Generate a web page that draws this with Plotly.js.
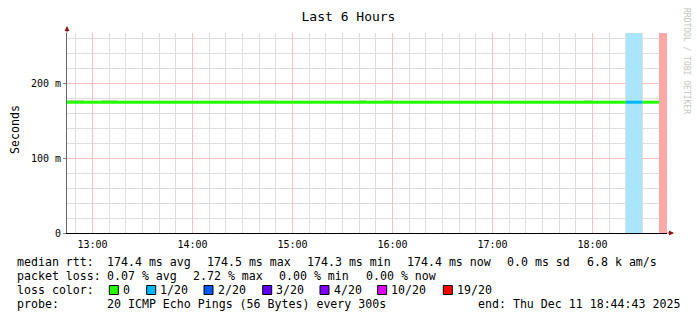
<!DOCTYPE html>
<html>
<head>
<meta charset="utf-8">
<script src="https://cdn.plot.ly/plotly-3.0.1.min.js"></script>
<style>html,body{margin:0;padding:0;background:#fff;}#chart{width:697px;height:321px;}</style>
</head>
<body>
<div id="chart"></div>
<script>
// ---------------- data ----------------
const day = '2025-12-11 ';
const stepTimes = ['12:40','12:45','12:50','12:55',
 '13:00','13:05','13:10','13:15','13:20','13:25','13:30','13:35','13:40','13:45','13:50','13:55',
 '14:00','14:05','14:10','14:15','14:20','14:25','14:30','14:35','14:40','14:45','14:50','14:55',
 '15:00','15:05','15:10','15:15','15:20','15:25','15:30','15:35','15:40','15:45','15:50','15:55',
 '16:00','16:05','16:10','16:15','16:20','16:25','16:30','16:35','16:40','16:45','16:50','16:55',
 '17:00','17:05','17:10','17:15','17:20','17:25','17:30','17:35','17:40','17:45','17:50','17:55',
 '18:00','18:05','18:10','18:15','18:20','18:25','18:30','18:35','18:40'];
// median rtt in ms
const medianRtt = [174.4,174.4,174.5,174.4,
 174.4,174.4,174.5,174.4,174.3,174.4,174.4,174.4,174.4,174.5,174.4,174.4,
 174.4,174.4,174.4,174.3,174.4,174.4,174.4,174.4,174.5,174.4,174.4,174.4,
 174.4,174.4,174.4,174.4,174.3,174.4,174.4,174.4,174.4,174.4,174.4,174.4,
 174.4,174.4,174.4,174.4,174.4,174.3,174.4,174.4,174.4,174.4,174.4,174.4,
 174.4,174.4,174.4,174.4,174.4,174.4,174.4,174.3,174.4,174.4,174.4,174.4,
 174.4,174.4,174.4,174.4,174.4,174.4,174.4,174.4,null];
// smoke (min / max of individual pings) in ms
const smokeLow = [174.0,174.0,174.0,174.0,
 174.0,174.0,174.0,174.0,174.0,174.0,174.0,174.0,174.0,174.0,174.0,174.0,
 174.0,174.0,174.0,174.0,174.0,174.0,174.0,174.0,174.0,174.0,174.0,174.0,
 174.0,174.0,174.0,174.0,174.0,174.0,174.0,174.0,174.0,174.0,174.0,174.0,
 174.0,174.0,174.0,174.0,174.0,174.0,174.0,174.0,174.0,174.0,174.0,174.0,
 174.0,174.0,174.0,174.0,174.0,174.0,174.0,174.0,174.0,174.0,174.0,174.0,
 174.0,174.0,174.0,174.0,174.0,174.0,174.0,174.0,null];
const smokeHigh = [174.8,177.8,177.8,174.8,
 174.8,177.8,177.8,174.8,174.8,174.8,174.8,174.8,174.8,174.8,174.8,174.8,
 174.8,174.8,174.8,174.8,174.8,174.8,174.8,174.8,177.8,177.8,174.8,174.8,
 174.8,174.8,174.8,174.8,174.8,174.8,174.8,174.8,177.6,174.8,174.8,177.6,
 174.8,174.8,174.8,174.8,174.8,174.8,174.8,174.8,174.8,174.8,174.8,174.8,
 174.8,174.8,174.8,174.8,174.8,174.8,174.8,174.8,174.8,174.8,174.8,177.8,
 174.8,174.8,174.8,174.8,174.8,174.8,174.8,174.8,null];
// lost pings out of 20 per step
const lossCount = [0,0,0,0,
 0,0,0,0,0,0,0,0,0,0,0,0,
 0,0,0,0,0,0,0,0,0,0,0,0,
 0,0,0,0,0,0,0,0,0,0,0,0,
 0,0,0,0,0,0,0,0,0,0,0,0,
 0,0,0,0,0,0,0,0,0,0,0,0,
 0,0,0,0,1,1,0,0,19];

const lossLevels = [0,1,2,3,4,10,19];
const lossLabels = ['0','1/20','2/20','3/20','4/20','10/20','19/20'];
const lossColors = ['#26ff00','#00b8ff','#0059ff','#5e00ff','#7e00ff','#dd00ff','#ff0000'];
const lossBgColors = ['#ffffff','#a9e5fb','#a6c4ff','#c8a6ff','#d2a6ff','#f0a6ff','#ffa8a8'];

const yTickVals = [0,100,200];
const yTickText = ['0','100 m','200 m'];

const rttStats = ['174.4 ms avg','174.5 ms max','174.3 ms min','174.4 ms now','0.0 ms sd','6.8 k am/s'];
const lossStats = ['0.07 % avg','2.72 % max','0.00 % min','0.00 % now'];
const probeText = '20 ICMP Echo Pings (56 Bytes) every 300s';
const endText = 'end: Thu Dec 11 18:44:43 2025';

// ---------------- helpers ----------------
const STEP_MS = 300000;
const mono = 'DejaVu Sans Mono, monospace';
function levelIndex(n){ let k=0; for(let i=0;i<lossLevels.length;i++){ if(n>=lossLevels[i]) k=i; } return k; }
function toDate(s){ return new Date(day.replace(/-/g,'/') + s); }
function fmt(d){ const p=n=>String(n).padStart(2,'0'); return d.getFullYear()+'-'+p(d.getMonth()+1)+'-'+p(d.getDate())+' '+p(d.getHours())+':'+p(d.getMinutes())+':'+p(d.getSeconds()); }
const xStart = stepTimes.map(t => day + t);

const yTop = 266.7;
const traces = [];

// loss background bars
traces.push({
  type:'bar', x:xStart, y:lossCount.map(n => n>0 ? yTop : null), base:0,
  width:STEP_MS, offset:0,
  marker:{color:lossCount.map(n => lossBgColors[levelIndex(n)]), line:{width:0}},
  hoverinfo:'skip'
});
// smoke
traces.push({
  type:'bar', x:xStart, y:smokeHigh.map((h,i)=> h==null?null:h-smokeLow[i]), base:smokeLow,
  width:STEP_MS, offset:0,
  marker:{color:'#cfcfcf', line:{width:0}}, hoverinfo:'skip'
});
// median line, coloured by loss
lossLevels.forEach((lv, li) => {
  const xs=[], ys=[];
  let open=false;
  for(let i=0;i<stepTimes.length;i++){
    const v = medianRtt[i];
    if(v!=null && levelIndex(lossCount[i])===li){
      const t0 = toDate(stepTimes[i]);
      const t1 = new Date(t0.getTime()+STEP_MS);
      xs.push(fmt(t0)); ys.push(v); xs.push(fmt(t1)); ys.push(v);
      open=true;
    } else if(open){ xs.push(null); ys.push(null); open=false; }
  }
  if(xs.length) traces.push({type:'scatter', mode:'lines', x:xs, y:ys, line:{color:lossColors[li], width:3}, hoverinfo:'skip', connectgaps:false});
});

// ---------------- layout ----------------
const L=67, T=33, W=600, H=200;
const px = v => (v-L)/W;
const py = v => (T+H-v)/H;
const ann = [];
function txt(s, x, y, size){ ann.push({text:s, xref:'paper', yref:'paper', x:px(x), y:py(y), xanchor:'left', yanchor:'middle', showarrow:false, borderpad:0, borderwidth:0, font:{family:mono, size:size||11.6, color:'#000'}}); }

txt('median rtt:', 16.7, 262);
[107,207,307,407,507,587].forEach((x,i)=>txt(rttStats[i], x, 262));
txt('packet loss:', 16.7, 276);
[107,192.7,279.3,365.7].forEach((x,i)=>txt(lossStats[i], x, 276));
txt('loss color:', 16.7, 290);
const sqX = [109.3,146.7,204,262.7,320,377.7,443.3];
const shapes = [];
sqX.forEach((x,i)=>{
  shapes.push({type:'rect', xref:'paper', yref:'paper', x0:px(x), x1:px(x+9), y0:py(294.5), y1:py(285.5), fillcolor:lossColors[i], line:{color:'#000', width:1}});
  txt(lossLabels[i], x+13.5, 290);
});
txt('probe:', 16.7, 304);
txt(probeText, 107, 304);
txt(endText, 478.3, 304);

ann.push({text:'Seconds', xref:'paper', yref:'paper', x:px(15), y:py(130), textangle:-90, showarrow:false, xanchor:'center', yanchor:'middle', font:{family:mono, size:11.6, color:'#000'}});
ann.push({text:'RRDTOOL / TOBI OETIKER', xref:'paper', yref:'paper', x:px(687), y:py(61), textangle:90, showarrow:false, xanchor:'center', yanchor:'middle', font:{family:mono, size:8, color:'#c4c4c4'}});
// axis arrows
ann.push({text:'', xref:'paper', yref:'paper', x:px(67), y:py(26), ax:0, ay:8, showarrow:true, arrowhead:2, arrowsize:1, arrowwidth:1, arrowcolor:'#8b1a1a'});
ann.push({text:'', xref:'paper', yref:'paper', x:px(674), y:py(233), ax:-8, ay:0, showarrow:true, arrowhead:2, arrowsize:1, arrowwidth:1, arrowcolor:'#8b1a1a'});

const layout = {
  width:697, height:321,
  margin:{l:L, r:697-L-W, t:T, b:321-T-H, pad:0},
  paper_bgcolor:'#ffffff', plot_bgcolor:'#ffffff',
  showlegend:false, barmode:'overlay', bargap:0,
  title:{text:'Last 6 Hours', font:{family:mono, size:13, color:'#000'}, x:0.5, xref:'container', xanchor:'center', y:1-16/321, yref:'container', yanchor:'middle'},
  xaxis:{
    type:'date', range:[day+'12:44:43', day+'18:44:43'],
    tickmode:'linear', tick0:day+'13:00:00', dtick:3600000, tickformat:'%H:%M',
    showgrid:true, gridcolor:'#f7c0c0', gridwidth:1,
    minor:{tickmode:'linear', tick0:day+'13:00:00', dtick:600000, showgrid:true, gridcolor:'#dedede', gridwidth:1, ticks:''},
    showline:true, linecolor:'#000', linewidth:1, zeroline:false, ticks:'',
    ticklabelstandoff:2,
    tickfont:{family:mono, size:10, color:'#000'}, fixedrange:true
  },
  yaxis:{
    range:[0, yTop], tickmode:'array', tickvals:yTickVals, ticktext:yTickText,
    showgrid:true, gridcolor:'#f7c0c0', gridwidth:1,
    minor:{tickmode:'linear', tick0:0, dtick:20, showgrid:true, gridcolor:'#dedede', gridwidth:1, ticks:''},
    showline:true, linecolor:'#666', linewidth:1, zeroline:false,
    ticks:'outside', ticklen:3, tickcolor:'#888',
    tickfont:{family:mono, size:10, color:'#000'}, fixedrange:true
  },
  annotations:ann, shapes:shapes
};

Plotly.newPlot('chart', traces, layout, {staticPlot:true, displayModeBar:false});
</script>
</body>
</html>
